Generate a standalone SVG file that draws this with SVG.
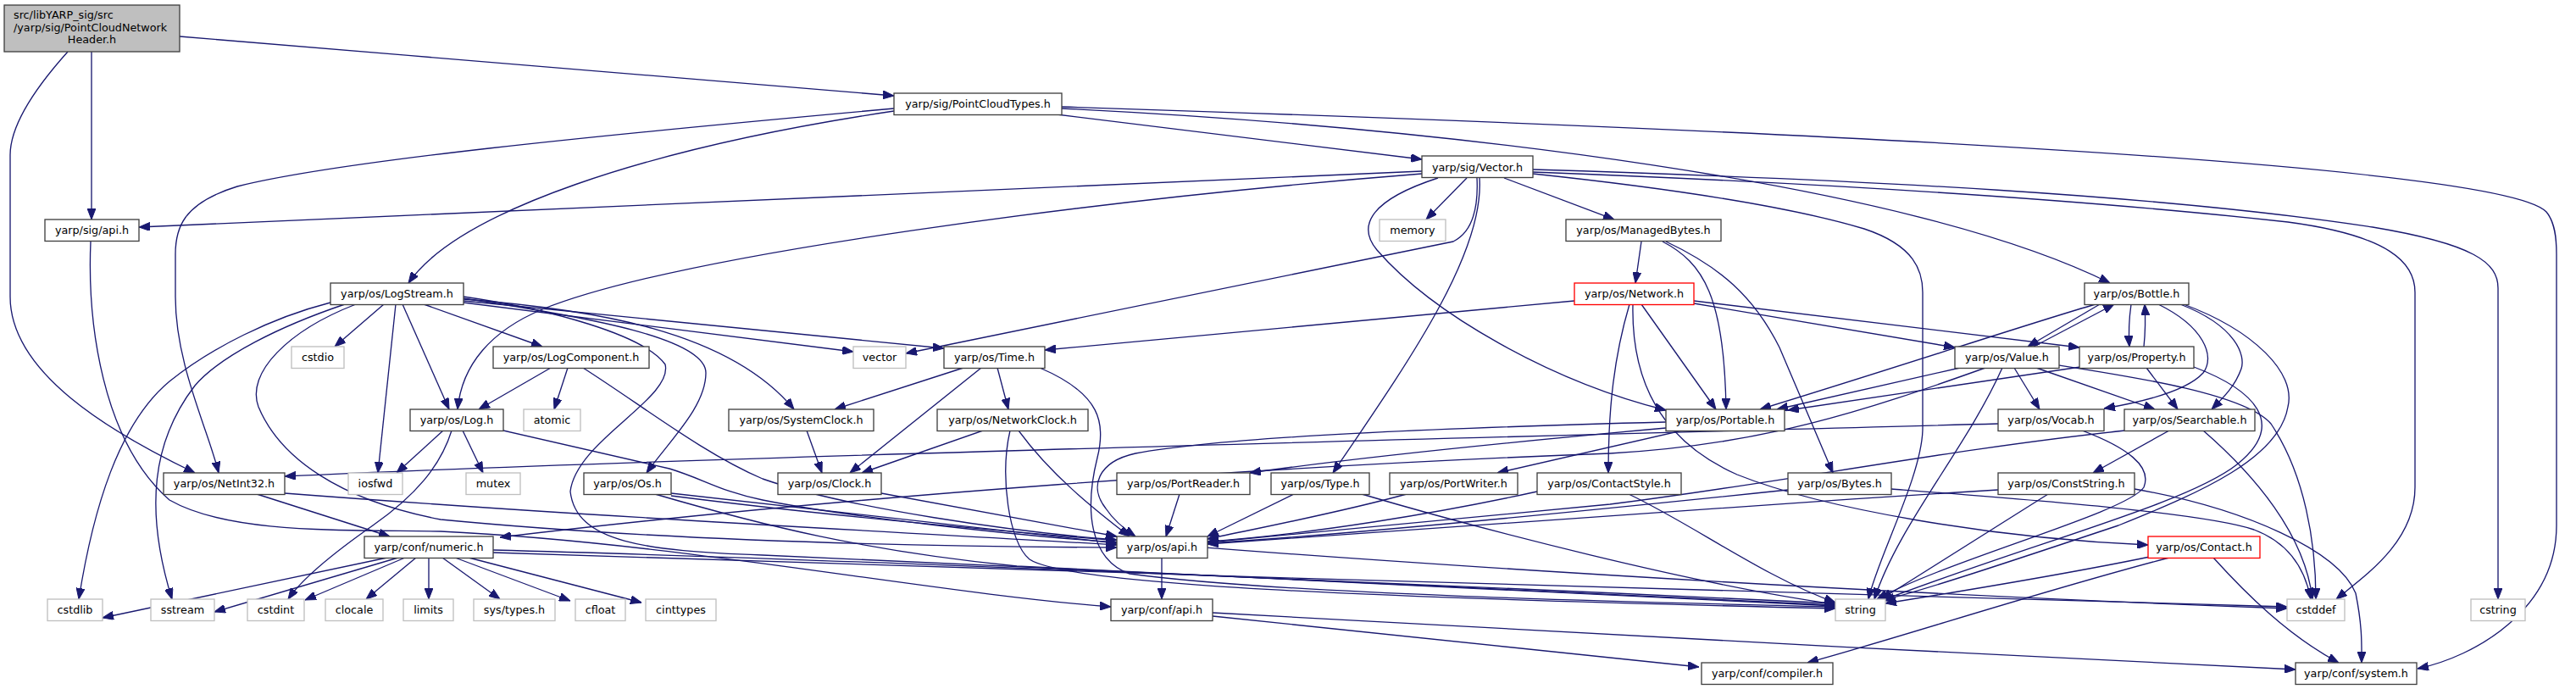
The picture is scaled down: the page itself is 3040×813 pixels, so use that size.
<svg xmlns="http://www.w3.org/2000/svg" width="3040" height="813" viewBox="0 0 3040 813">
<style>
.n rect{fill:#fff;stroke:#404040;stroke-width:1.33}
.g rect{stroke:#bfbfbf}
.r rect{stroke:#ff0000}
text{font-family:"DejaVu Sans",sans-serif;font-size:12.75px;fill:#000;text-anchor:middle}
.e{fill:none;stroke:#191970;stroke-width:1.33;marker-end:url(#a)}
</style>
<defs>
<marker id="a" viewBox="0 0 13 10" refX="13" refY="5" markerWidth="13" markerHeight="10" markerUnits="userSpaceOnUse" orient="auto">
<path d="M0,0 L13,5 L0,10 z" fill="#191970" stroke="#191970" stroke-width="1"/>
</marker>
</defs>
<rect x="0" y="0" width="3040" height="813" fill="#fff"/>
<g id="edges">
<path class="e" d="M108,61 L108,259"/>
<path class="e" d="M212,43 C500,67 850,96 1055,113"/>
<path class="e" d="M80,61 C45,100 12,145 12,183 L12,350 C12,440 130,510 230,558"/>
<path class="e" d="M1247,135 L1678,188"/>
<path class="e" d="M1055,131 C760,175 540,250 482,334"/>
<path class="e" d="M1055,128 C700,160 400,190 280,220 C215,240 207,270 207,300 L207,350 C207,430 245,505 258,558"/>
<path class="e" d="M1253,128 C1700,150 2250,215 2490,334"/>
<path class="e" d="M1253,126 C2000,150 2950,190 3005,250 C3015,262 3017,280 3017,300 L3017,620 C3017,720 2920,775 2853,789"/>
<path class="e" d="M1731,210 L1683,259"/>
<path class="e" d="M1775,210 L1905,259"/>
<path class="e" d="M1678,202 L164,268"/>
<path class="e" d="M1809,200 C2200,212 2550,230 2800,268 C2920,288 2948,310 2948,340 L2948,707"/>
<path class="e" d="M1809,203 C2200,218 2500,240 2700,262 C2820,278 2850,310 2850,345 L2850,575 C2850,640 2790,680 2757,707"/>
<path class="e" d="M1809,205 C1950,220 2100,240 2200,270 C2260,290 2269,320 2269,345 L2269,505 C2269,560 2215,660 2205,707"/>
<path class="e" d="M1697,210 C1620,235 1600,265 1625,295 C1690,370 1830,450 1966,484"/>
<path class="e" d="M1743,210 C1745,250 1735,275 1715,285 L1069,417"/>
<path class="e" d="M1746,210 C1752,300 1660,430 1573,558"/>
<path class="e" d="M1678,205 C1300,235 800,300 640,365 C580,390 545,430 540,483"/>
<path class="e" d="M1937,285 L1930,334"/>
<path class="e" d="M1962,285 C2010,310 2035,350 2037,483"/>
<path class="e" d="M1966,285 C2030,315 2070,350 2100,410 L2163,558"/>
<path class="e" d="M1858,355 L1233,413"/>
<path class="e" d="M1999,358 L2307,410"/>
<path class="e" d="M1999,355 L2454,410"/>
<path class="e" d="M1923,359 C1905,420 1898,480 1898,558"/>
<path class="e" d="M1927,359 C1925,450 1960,520 2050,560 C2150,600 2350,635 2535,643"/>
<path class="e" d="M1937,359 L2025,483"/>
<path class="e" d="M2478,359 L2393,409"/>
<path class="e" d="M2400,409 L2495,359"/>
<path class="e" d="M2515,359 C2512,380 2512,395 2513,409"/>
<path class="e" d="M2530,409 C2532,390 2532,375 2531,359"/>
<path class="e" d="M2473,359 C2400,380 2250,430 2077,483"/>
<path class="e" d="M2547,359 C2600,385 2615,420 2600,440 C2580,462 2530,474 2483,482"/>
<path class="e" d="M2573,359 C2640,385 2650,420 2645,435 C2638,455 2625,468 2610,483"/>
<path class="e" d="M2577,359 C2660,390 2710,440 2700,480 C2690,540 2600,580 2500,620 C2380,660 2260,700 2222,708"/>
<path class="e" d="M2313,434 L2097,483"/>
<path class="e" d="M2343,434 C2200,485 2080,525 1900,535 C1500,550 1000,585 590,634"/>
<path class="e" d="M2363,434 C2320,530 2240,620 2212,707"/>
<path class="e" d="M2377,434 L2407,483"/>
<path class="e" d="M2403,434 L2543,483"/>
<path class="e" d="M2430,431 C2520,445 2650,465 2680,500 C2720,560 2733,640 2733,707"/>
<path class="e" d="M2455,433 L2110,484"/>
<path class="e" d="M2533,434 L2570,483"/>
<path class="e" d="M2589,433 C2660,460 2700,500 2640,548 C2580,595 2400,640 2220,709"/>
<path class="e" d="M2560,508 L2470,558"/>
<path class="e" d="M2600,508 C2660,560 2720,630 2729,707"/>
<path class="e" d="M2508,508 C2300,530 2100,570 1900,595 C1700,615 1500,632 1425,640"/>
<path class="e" d="M2358,500 C1800,515 800,540 336,562"/>
<path class="e" d="M2457,508 C2510,528 2540,550 2530,575 C2510,605 2300,660 2215,707"/>
<path class="e" d="M2417,583 L2220,707"/>
<path class="e" d="M2358,578 C2000,600 1600,628 1425,642"/>
<path class="e" d="M2519,577 C2650,600 2760,650 2780,700 C2788,740 2787,760 2787,782"/>
<path class="e" d="M2110,578 C1900,600 1600,630 1425,641"/>
<path class="e" d="M2232,577 C2400,590 2600,605 2660,625 C2700,640 2720,670 2727,707"/>
<path class="e" d="M2560,658 C2400,700 2250,750 2133,782"/>
<path class="e" d="M2612,658 C2650,700 2700,750 2760,782"/>
<path class="e" d="M2537,657 C2450,675 2300,700 2225,712"/>
<path class="e" d="M1527,583 L1425,633"/>
<path class="e" d="M1607,583 C1750,625 2000,690 2166,713"/>
<path class="e" d="M1660,583 C1580,605 1500,620 1425,636"/>
<path class="e" d="M1392,583 L1376,633"/>
<path class="e" d="M1814,580 C1700,605 1550,630 1425,639"/>
<path class="e" d="M1922,583 C2000,620 2080,680 2166,711"/>
<path class="e" d="M1966,498 C1700,505 1450,515 1340,535 C1295,545 1285,575 1305,600 C1315,615 1328,625 1340,633"/>
<path class="e" d="M1966,505 C1800,520 1600,540 1475,558"/>
<path class="e" d="M1985,508 L1767,558"/>
<path class="e" d="M1137,434 L985,483"/>
<path class="e" d="M1158,434 L1003,558"/>
<path class="e" d="M1177,434 L1190,483"/>
<path class="e" d="M1227,434 C1300,465 1305,500 1295,540 C1280,600 1285,660 1333,677 C1500,700 1900,710 2166,716"/>
<path class="e" d="M952,508 L970,558"/>
<path class="e" d="M1160,508 L1017,558"/>
<path class="e" d="M1202,508 C1240,560 1290,600 1333,633"/>
<path class="e" d="M1192,508 C1180,560 1190,640 1215,660 C1260,690 1600,705 2166,718"/>
<path class="e" d="M1040,582 L1318,633"/>
<path class="e" d="M453,359 L395,409"/>
<path class="e" d="M500,359 L640,409"/>
<path class="e" d="M475,359 L530,483"/>
<path class="e" d="M467,359 L446,558"/>
<path class="e" d="M390,357 C320,375 250,410 200,450 C140,500 110,600 93,707"/>
<path class="e" d="M407,359 C330,385 260,420 230,455 C180,520 170,600 203,707"/>
<path class="e" d="M420,359 C340,390 290,440 305,480 C330,540 400,590 520,613 C800,640 1100,645 1318,646"/>
<path class="e" d="M547,350 C650,365 760,395 785,430 C795,470 680,520 673,580 C680,640 760,650 900,655 C1300,670 1800,700 2166,714"/>
<path class="e" d="M547,352 C700,375 833,400 833,440 C833,480 790,520 763,558"/>
<path class="e" d="M547,353 C700,365 860,390 937,483"/>
<path class="e" d="M547,355 L1114,411"/>
<path class="e" d="M547,357 L1007,415"/>
<path class="e" d="M650,434 L565,483"/>
<path class="e" d="M670,434 L654,483"/>
<path class="e" d="M688,434 C760,480 830,535 900,565 C1000,600 1200,628 1318,637"/>
<path class="e" d="M523,508 L468,558"/>
<path class="e" d="M546,508 L570,558"/>
<path class="e" d="M533,508 C520,550 490,585 440,620 C390,655 355,685 340,707"/>
<path class="e" d="M594,508 L790,553 C830,565 850,580 900,590 C1000,610 1200,632 1318,640"/>
<path class="e" d="M303,583 L460,633"/>
<path class="e" d="M336,582 C700,610 1100,630 1318,643"/>
<path class="e" d="M107,285 C103,380 120,520 200,590 C270,630 400,625 520,627 C800,640 1100,700 1311,716"/>
<path class="e" d="M457,658 L121,729"/>
<path class="e" d="M470,658 L253,722"/>
<path class="e" d="M478,658 L360,708"/>
<path class="e" d="M491,658 L432,707"/>
<path class="e" d="M506,658 L506,707"/>
<path class="e" d="M522,658 L590,707"/>
<path class="e" d="M537,658 L673,709"/>
<path class="e" d="M553,658 L757,711"/>
<path class="e" d="M582,649 C1000,660 1700,690 2166,712"/>
<path class="e" d="M582,652 C1200,675 2200,700 2699,716"/>
<path class="e" d="M1371,658 L1371,707"/>
<path class="e" d="M1431,727 L2005,787"/>
<path class="e" d="M1431,723 C1800,745 2300,770 2709,790"/>
<path class="e" d="M792,582 L1318,641"/>
<path class="e" d="M773,583 C900,620 1020,650 1200,668 C1600,690 1900,705 2166,715"/>
<path class="e" d="M792,585 C1300,650 2200,700 2699,718"/>
</g>
<g id="n_root" class="n"><rect x="5" y="6" width="207" height="55" style="fill:#bfbfbf"/><text x="16" y="22" style="text-anchor:start">src/libYARP_sig/src</text><text x="16" y="36.5" style="text-anchor:start">/yarp/sig/PointCloudNetwork</text><text x="108.5" y="51">Header.h</text></g>
<g id="n_pct" class="n"><rect x="1055" y="110" width="198" height="25.5"/><text x="1154" y="127">yarp/sig/PointCloudTypes.h</text></g>
<g id="n_vector_h" class="n"><rect x="1678" y="184" width="131" height="25.5"/><text x="1743.5" y="201.5">yarp/sig/Vector.h</text></g>
<g id="n_sigapi" class="n"><rect x="53" y="259" width="111" height="25.5"/><text x="108.5" y="276">yarp/sig/api.h</text></g>
<g id="n_memory" class="n g"><rect x="1628" y="259" width="78" height="25.5"/><text x="1667" y="276">memory</text></g>
<g id="n_managedbytes" class="n"><rect x="1848" y="259" width="183" height="25.5"/><text x="1939.5" y="276">yarp/os/ManagedBytes.h</text></g>
<g id="n_logstream" class="n"><rect x="390" y="334" width="157" height="25.5"/><text x="468.5" y="351">yarp/os/LogStream.h</text></g>
<g id="n_network" class="n r"><rect x="1858" y="334" width="141" height="25.5"/><text x="1928.5" y="351">yarp/os/Network.h</text></g>
<g id="n_bottle" class="n"><rect x="2460" y="334" width="123" height="25.5"/><text x="2521.5" y="351">yarp/os/Bottle.h</text></g>
<g id="n_cstdio" class="n g"><rect x="344" y="409" width="62" height="25.5"/><text x="375" y="426">cstdio</text></g>
<g id="n_logcomponent" class="n"><rect x="582" y="409" width="184" height="25.5"/><text x="674" y="426">yarp/os/LogComponent.h</text></g>
<g id="n_vector" class="n g"><rect x="1007" y="409" width="62" height="25.5"/><text x="1038" y="426">vector</text></g>
<g id="n_time" class="n"><rect x="1114" y="409" width="119" height="25.5"/><text x="1173.5" y="426">yarp/os/Time.h</text></g>
<g id="n_value" class="n"><rect x="2307" y="409" width="123" height="25.5"/><text x="2368.5" y="426">yarp/os/Value.h</text></g>
<g id="n_property" class="n"><rect x="2454" y="409" width="135" height="25.5"/><text x="2521.5" y="426">yarp/os/Property.h</text></g>
<g id="n_log" class="n"><rect x="484" y="483" width="110" height="25.5"/><text x="539" y="500">yarp/os/Log.h</text></g>
<g id="n_atomic" class="n g"><rect x="618" y="483" width="67" height="25.5"/><text x="651.5" y="500">atomic</text></g>
<g id="n_systemclock" class="n"><rect x="860" y="483" width="171" height="25.5"/><text x="945.5" y="500">yarp/os/SystemClock.h</text></g>
<g id="n_networkclock" class="n"><rect x="1106" y="483" width="178" height="25.5"/><text x="1195" y="500">yarp/os/NetworkClock.h</text></g>
<g id="n_portable" class="n"><rect x="1966" y="483" width="140" height="25.5"/><text x="2036" y="500">yarp/os/Portable.h</text></g>
<g id="n_vocab" class="n"><rect x="2358" y="483" width="125" height="25.5"/><text x="2420.5" y="500">yarp/os/Vocab.h</text></g>
<g id="n_searchable" class="n"><rect x="2507" y="483" width="154" height="25.5"/><text x="2584" y="500">yarp/os/Searchable.h</text></g>
<g id="n_netint32" class="n"><rect x="193" y="558" width="143" height="25.5"/><text x="264.5" y="575">yarp/os/NetInt32.h</text></g>
<g id="n_iosfwd" class="n g"><rect x="411" y="558" width="64" height="25.5"/><text x="443" y="575">iosfwd</text></g>
<g id="n_mutex" class="n g"><rect x="550" y="558" width="64" height="25.5"/><text x="582" y="575">mutex</text></g>
<g id="n_os" class="n"><rect x="689" y="558" width="103" height="25.5"/><text x="740.5" y="575">yarp/os/Os.h</text></g>
<g id="n_clock" class="n"><rect x="918" y="558" width="122" height="25.5"/><text x="979" y="575">yarp/os/Clock.h</text></g>
<g id="n_portreader" class="n"><rect x="1318" y="558" width="157" height="25.5"/><text x="1396.5" y="575">yarp/os/PortReader.h</text></g>
<g id="n_type" class="n"><rect x="1500" y="558" width="116" height="25.5"/><text x="1558" y="575">yarp/os/Type.h</text></g>
<g id="n_portwriter" class="n"><rect x="1640" y="558" width="151" height="25.5"/><text x="1715.5" y="575">yarp/os/PortWriter.h</text></g>
<g id="n_contactstyle" class="n"><rect x="1814" y="558" width="170" height="25.5"/><text x="1899" y="575">yarp/os/ContactStyle.h</text></g>
<g id="n_bytes" class="n"><rect x="2110" y="558" width="122" height="25.5"/><text x="2171" y="575">yarp/os/Bytes.h</text></g>
<g id="n_conststring" class="n"><rect x="2358" y="558" width="161" height="25.5"/><text x="2438.5" y="575">yarp/os/ConstString.h</text></g>
<g id="n_numeric" class="n"><rect x="430" y="633" width="152" height="25.5"/><text x="506" y="650">yarp/conf/numeric.h</text></g>
<g id="n_osapi" class="n"><rect x="1318" y="633" width="107" height="25.5"/><text x="1371.5" y="650">yarp/os/api.h</text></g>
<g id="n_contact" class="n r"><rect x="2535" y="633" width="132" height="25.5"/><text x="2601" y="650">yarp/os/Contact.h</text></g>
<g id="n_cstdlib" class="n g"><rect x="56" y="707" width="65" height="25.5"/><text x="88.5" y="724">cstdlib</text></g>
<g id="n_sstream" class="n g"><rect x="178" y="707" width="75" height="25.5"/><text x="215.5" y="724">sstream</text></g>
<g id="n_cstdint" class="n g"><rect x="292" y="707" width="67" height="25.5"/><text x="325.5" y="724">cstdint</text></g>
<g id="n_clocale" class="n g"><rect x="384" y="707" width="68" height="25.5"/><text x="418" y="724">clocale</text></g>
<g id="n_limits" class="n g"><rect x="476" y="707" width="59" height="25.5"/><text x="505.5" y="724">limits</text></g>
<g id="n_systypes" class="n g"><rect x="559" y="707" width="96" height="25.5"/><text x="607" y="724">sys/types.h</text></g>
<g id="n_cfloat" class="n g"><rect x="679" y="707" width="59" height="25.5"/><text x="708.5" y="724">cfloat</text></g>
<g id="n_cinttypes" class="n g"><rect x="762" y="707" width="83" height="25.5"/><text x="803.5" y="724">cinttypes</text></g>
<g id="n_confapi" class="n"><rect x="1311" y="707" width="120" height="25.5"/><text x="1371" y="724">yarp/conf/api.h</text></g>
<g id="n_string" class="n g"><rect x="2166" y="707" width="59" height="25.5"/><text x="2195.5" y="724">string</text></g>
<g id="n_cstddef" class="n g"><rect x="2699" y="707" width="68" height="25.5"/><text x="2733" y="724">cstddef</text></g>
<g id="n_cstring" class="n g"><rect x="2916" y="707" width="64" height="25.5"/><text x="2948" y="724">cstring</text></g>
<g id="n_compiler" class="n"><rect x="2008" y="782" width="155" height="25.5"/><text x="2085.5" y="799">yarp/conf/compiler.h</text></g>
<g id="n_system" class="n"><rect x="2709" y="782" width="143" height="25.5"/><text x="2780.5" y="799">yarp/conf/system.h</text></g>
</svg>
